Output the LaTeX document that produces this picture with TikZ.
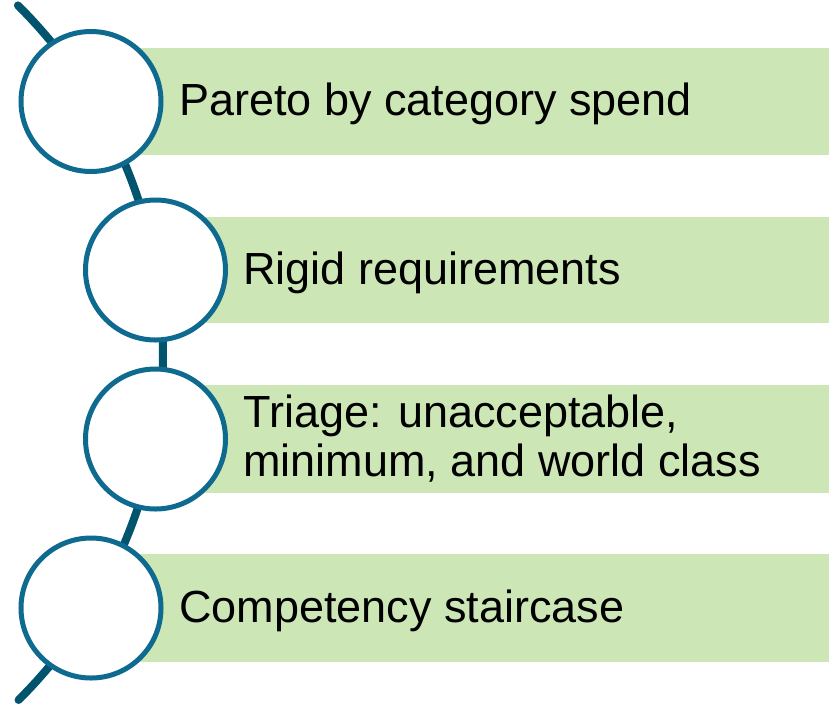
\documentclass[tikz,border=0pt]{standalone}
\usepackage{fontspec}
\setmainfont{Liberation Sans}
\definecolor{barfill}{HTML}{CDE6B5}
\definecolor{ringcol}{HTML}{0F6A8F}
\definecolor{arccol}{HTML}{00546E}
\begin{document}
\begin{tikzpicture}[x=1pt,y=-1pt,
  bar/.style={fill=barfill,draw=none},
  ring/.style={circle,draw=ringcol,line width=5pt,fill=white,minimum size=140pt,inner sep=0pt},
  lbl/.style={font=\fontsize{45}{49}\selectfont,inner sep=0pt,align=left,text=black},
  spine/.style={draw=arccol,line width=8pt,line cap=round}]
\useasboundingbox (0,0) rectangle (829,705);
% spine arc
\coordinate (ac) at (-326,353);
\draw[spine] plot[domain=-45.3:45.2,samples=120] ({-326+489*cos(\x)},{353+489*sin(\x)});
% bars
\fill[bar] (91,48) rectangle (829,155);
\fill[bar] (155.5,217) rectangle (829,323);
\fill[bar] (155.5,385) rectangle (829,493);
\fill[bar] (91,554) rectangle (829,662);
% circles
\node[ring] (c1) at (91,101.5) {};
\node[ring] (c2) at (155.5,270) {};
\node[ring] (c3) at (155.5,439) {};
\node[ring] (c4) at (91,608) {};
% labels
\node[lbl,anchor=base west] (t1) at (179,115) {Pareto by category spend};
\node[lbl,anchor=base west] (t2) at (243,284) {Rigid requirements};
\node[lbl,anchor=west] (t3) at (243,439) {Triage: unacceptable,\\minimum, and world class};
\node[lbl,anchor=base west] (t4) at (179,622) {Competency staircase};
\end{tikzpicture}
\end{document}
